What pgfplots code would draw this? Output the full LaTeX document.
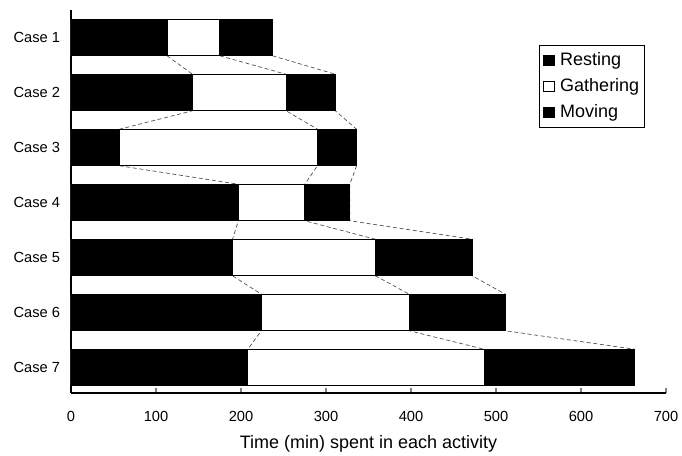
\documentclass[border=0pt]{standalone}
\usepackage{fontspec}
\setmainfont{Liberation Sans}
\usepackage{pgfplots}
\pgfplotsset{compat=1.18}
\begin{document}
\begin{tikzpicture}
\useasboundingbox (-53.25pt,-47.25pt) rectangle (458.25pt,294.75pt);
\begin{axis}[
  scale only axis,
  width=446.25pt, height=287.25pt,
  xmin=0, xmax=700,
  ymin=0.5, ymax=7.464,
  y dir=reverse,
  axis x line*=bottom, axis y line*=left,
  axis line style={line width=0.9pt, -},
  xtick={0,100,...,700},
  ytick={1,...,7},
  yticklabels={Case 1,Case 2,Case 3,Case 4,Case 5,Case 6,Case 7},
  minor ytick={0.5,1.5,...,7.5},
  tick align=inside,
  major tick length=3.5pt,
  minor tick length=4pt,
  ytick style={draw=none},
  minor tick style={draw=black, line width=0.9pt},
  xtick style={line width=0.9pt},
  /pgf/number format/assume math mode=true,
  ticklabel style={font=\fontsize{11}{13}\selectfont},
  xticklabel style={yshift=-10.5pt},
  yticklabel style={font=\fontsize{11}{13}\selectfont, inner sep=0pt, anchor=east, xshift=-8pt},
  xlabel={Time (min) spent in each activity},
  xlabel style={font=\fontsize{13.5}{16}\selectfont, at={(axis description cs:0.5,0)}, anchor=center, yshift=-38pt},
  clip=false,
  reverse legend,
  legend style={at={(0.9647,0.9086)}, anchor=north east, draw=black, line width=0.6pt,
    font=\fontsize{13.5}{16}\selectfont, row sep=4pt, inner xsep=3pt, inner ysep=3.5pt,
    nodes={inner sep=1pt, text height=10.5pt, text depth=3pt}},
  legend cell align=left,
  legend image code/.code={\draw[#1, line width=0.6pt] (0pt,-4pt) rectangle (8pt,4pt); \path (11pt,0pt);},
]
% series lines (drawn first, behind the bars)
\addplot[forget plot, black!70, line width=0.5pt, densely dashed] coordinates {
 (113,1.332)(143,1.668)(143,2.332)(57,2.668)(57,3.332)(197,3.668)(197,4.332)(190,4.668)(190,5.332)(224,5.668)(224,6.332)(208,6.668)};
\addplot[forget plot, black!70, line width=0.5pt, densely dashed] coordinates {
 (175,1.332)(253,1.668)(253,2.332)(290,2.668)(290,3.332)(275,3.668)(275,4.332)(358,4.668)(358,5.332)(398,5.668)(398,6.332)(486,6.668)};
\addplot[forget plot, black!70, line width=0.5pt, densely dashed] coordinates {
 (237,1.332)(311,1.668)(311,2.332)(336,2.668)(336,3.332)(328,3.668)(328,4.332)(472,4.668)(472,5.332)(511,5.668)(511,6.332)(663,6.668)};
% bars: end of moving (total), end of gathering, end of resting
\addplot[xbar, bar shift=0pt, bar width=0.664, fill=black, draw=black, line width=0.7pt] coordinates {
 (237,1)(311,2)(336,3)(328,4)(472,5)(511,6)(663,7)};
\addlegendentry{Moving}
\addplot[xbar, bar shift=0pt, bar width=0.664, fill=white, draw=black, line width=0.7pt] coordinates {
 (175,1)(253,2)(290,3)(275,4)(358,5)(398,6)(486,7)};
\addlegendentry{Gathering}
\addplot[xbar, bar shift=0pt, bar width=0.664, fill=black, draw=black, line width=0.7pt] coordinates {
 (113,1)(143,2)(57,3)(197,4)(190,5)(224,6)(208,7)};
\addlegendentry{Resting}
\end{axis}
\end{tikzpicture}
\end{document}
